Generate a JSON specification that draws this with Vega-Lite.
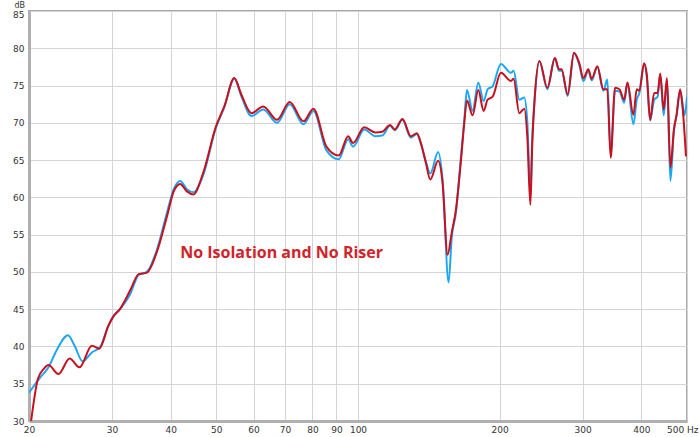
{
  "$schema": "https://vega.github.io/schema/vega-lite/v6.json",
  "width": 658,
  "height": 410,
  "autosize": {"type": "none"},
  "padding": {"left": 29, "top": 11, "right": 13, "bottom": 16},
  "background": "white",
  "config": {
    "view": {"stroke": "#a8a8a8", "strokeWidth": 2},
    "font": "DejaVu Sans",
    "axis": {"labelOverlap": false, "labelFlush": false, "labelBound": false}
  },
  "datasets": {
    "blue": [
      {"f": 20, "db": 33.8}, {"f": 21.1, "db": 35.8}, {"f": 22.0, "db": 37.2}, {"f": 22.9, "db": 39.5},
      {"f": 24.2, "db": 41.5}, {"f": 25.0, "db": 40.1}, {"f": 26.0, "db": 38.0}, {"f": 27.2, "db": 39.2},
      {"f": 28.3, "db": 39.9}, {"f": 29.5, "db": 42.8}, {"f": 30.2, "db": 44.0}, {"f": 31.2, "db": 45.0},
      {"f": 32.8, "db": 47.0}, {"f": 34.2, "db": 49.6}, {"f": 35.6, "db": 50.0}, {"f": 37.4, "db": 53.0},
      {"f": 39.3, "db": 58.0}, {"f": 40.6, "db": 61.1}, {"f": 41.9, "db": 62.2}, {"f": 43.3, "db": 61.1},
      {"f": 44.7, "db": 60.7}, {"f": 46.9, "db": 63.0}, {"f": 49.9, "db": 69.3}, {"f": 52.0, "db": 72.1},
      {"f": 54.6, "db": 75.9}, {"f": 56.5, "db": 73.6}, {"f": 59.4, "db": 70.9}, {"f": 62.9, "db": 71.8},
      {"f": 67.3, "db": 70.0}, {"f": 71.6, "db": 72.5}, {"f": 76.6, "db": 69.8}, {"f": 80.4, "db": 71.6},
      {"f": 85.7, "db": 66.3}, {"f": 91.0, "db": 65.1}, {"f": 95.3, "db": 67.8}, {"f": 97.6, "db": 66.8},
      {"f": 103.1, "db": 69.1}, {"f": 108.9, "db": 68.2}, {"f": 112.6, "db": 68.3}, {"f": 117.0, "db": 69.6},
      {"f": 119.7, "db": 69.0}, {"f": 124.3, "db": 70.4}, {"f": 129.5, "db": 68.0}, {"f": 133.4, "db": 68.5},
      {"f": 136.0, "db": 67.2}, {"f": 139.4, "db": 64.8}, {"f": 142.4, "db": 63.2}, {"f": 148.0, "db": 66.1},
      {"f": 151.2, "db": 62.5}, {"f": 155.8, "db": 48.6}, {"f": 158.1, "db": 54.5}, {"f": 161.5, "db": 58.0},
      {"f": 165.5, "db": 65.5}, {"f": 168.2, "db": 70.4}, {"f": 170.4, "db": 74.4}, {"f": 175.2, "db": 71.6},
      {"f": 180.1, "db": 75.4}, {"f": 184.9, "db": 72.9}, {"f": 188.5, "db": 74.5}, {"f": 193.2, "db": 74.9},
      {"f": 201.2, "db": 77.9}, {"f": 211.3, "db": 76.7}, {"f": 214.1, "db": 77.0}, {"f": 220.1, "db": 73.1},
      {"f": 225.6, "db": 73.4}, {"f": 229.0, "db": 70.0}, {"f": 232.4, "db": 60.5}, {"f": 234.5, "db": 68.0},
      {"f": 237.0, "db": 72.7}, {"f": 242.9, "db": 78.3}, {"f": 252.5, "db": 74.5}, {"f": 262.0, "db": 78.7},
      {"f": 267.2, "db": 77.0}, {"f": 270.7, "db": 77.0}, {"f": 278.9, "db": 73.6}, {"f": 287.6, "db": 79.3},
      {"f": 295.2, "db": 77.8}, {"f": 301.1, "db": 75.6}, {"f": 308.6, "db": 77.0}, {"f": 313.6, "db": 75.7},
      {"f": 322.5, "db": 77.5}, {"f": 332.1, "db": 74.3}, {"f": 338.6, "db": 75.8}, {"f": 344.2, "db": 65.8},
      {"f": 351.6, "db": 74.3}, {"f": 359.3, "db": 74.2}, {"f": 367.6, "db": 72.7}, {"f": 373.6, "db": 75.2},
      {"f": 384.7, "db": 69.8}, {"f": 391.0, "db": 73.1}, {"f": 396.1, "db": 74.0}, {"f": 405.3, "db": 77.9},
      {"f": 410.7, "db": 76.2}, {"f": 417.5, "db": 70.3}, {"f": 425.8, "db": 73.1}, {"f": 433.0, "db": 73.5},
      {"f": 438.6, "db": 76.4}, {"f": 446.1, "db": 71.0}, {"f": 453.4, "db": 75.6}, {"f": 461.0, "db": 62.2},
      {"f": 469.0, "db": 69.0}, {"f": 475.3, "db": 71.1}, {"f": 483.5, "db": 74.3}, {"f": 489.1, "db": 72.6},
      {"f": 494.0, "db": 71.0}, {"f": 500.0, "db": 73.5}
    ],
    "red": [
      {"f": 20.2, "db": 29.9}, {"f": 20.9, "db": 35.7}, {"f": 21.5, "db": 37.0}, {"f": 22.0, "db": 37.5},
      {"f": 23.1, "db": 36.3}, {"f": 24.4, "db": 38.4}, {"f": 25.6, "db": 37.2}, {"f": 27.2, "db": 40.1},
      {"f": 28.2, "db": 39.7}, {"f": 29.5, "db": 42.8}, {"f": 30.2, "db": 44.0}, {"f": 31.2, "db": 45.0},
      {"f": 32.8, "db": 47.5}, {"f": 34.2, "db": 49.7}, {"f": 35.6, "db": 49.9}, {"f": 37.4, "db": 52.7},
      {"f": 39.3, "db": 57.5}, {"f": 40.6, "db": 60.8}, {"f": 41.9, "db": 61.8}, {"f": 43.3, "db": 60.8},
      {"f": 44.7, "db": 60.4}, {"f": 46.9, "db": 63.3}, {"f": 49.9, "db": 69.5}, {"f": 52.0, "db": 72.2},
      {"f": 54.6, "db": 76.0}, {"f": 56.5, "db": 73.8}, {"f": 59.4, "db": 71.3}, {"f": 62.9, "db": 72.2},
      {"f": 67.3, "db": 70.4}, {"f": 71.6, "db": 72.8}, {"f": 76.6, "db": 70.2}, {"f": 80.4, "db": 71.9},
      {"f": 85.7, "db": 66.8}, {"f": 91.0, "db": 65.6}, {"f": 95.3, "db": 68.2}, {"f": 97.6, "db": 67.3},
      {"f": 103.1, "db": 69.4}, {"f": 108.9, "db": 68.7}, {"f": 112.6, "db": 68.8}, {"f": 117.0, "db": 69.7},
      {"f": 119.7, "db": 69.1}, {"f": 124.3, "db": 70.5}, {"f": 129.5, "db": 68.2}, {"f": 133.4, "db": 68.6},
      {"f": 136.0, "db": 67.3}, {"f": 139.4, "db": 64.6}, {"f": 142.4, "db": 62.4}, {"f": 148.0, "db": 64.9},
      {"f": 151.2, "db": 62.0}, {"f": 155.0, "db": 52.3}, {"f": 158.1, "db": 55.2}, {"f": 161.5, "db": 58.4},
      {"f": 165.5, "db": 65.0}, {"f": 168.2, "db": 70.0}, {"f": 170.4, "db": 73.0}, {"f": 175.2, "db": 71.0},
      {"f": 180.1, "db": 74.4}, {"f": 184.9, "db": 71.6}, {"f": 188.5, "db": 73.1}, {"f": 193.2, "db": 73.5},
      {"f": 201.2, "db": 76.7}, {"f": 211.3, "db": 75.6}, {"f": 214.1, "db": 75.9}, {"f": 220.1, "db": 71.3},
      {"f": 225.6, "db": 71.9}, {"f": 229.0, "db": 68.0}, {"f": 232.4, "db": 59.0}, {"f": 234.5, "db": 67.0},
      {"f": 237.0, "db": 72.7}, {"f": 242.9, "db": 78.3}, {"f": 252.5, "db": 74.7}, {"f": 262.0, "db": 78.7},
      {"f": 267.2, "db": 77.2}, {"f": 270.7, "db": 77.2}, {"f": 278.9, "db": 73.8}, {"f": 287.6, "db": 79.4},
      {"f": 295.2, "db": 78.0}, {"f": 301.1, "db": 76.0}, {"f": 308.6, "db": 77.2}, {"f": 313.6, "db": 75.9},
      {"f": 322.5, "db": 77.6}, {"f": 332.1, "db": 74.5}, {"f": 338.6, "db": 74.5}, {"f": 344.2, "db": 65.3},
      {"f": 351.6, "db": 74.7}, {"f": 359.3, "db": 74.5}, {"f": 367.6, "db": 73.1}, {"f": 373.6, "db": 75.4},
      {"f": 384.7, "db": 71.1}, {"f": 391.0, "db": 74.5}, {"f": 396.1, "db": 74.3}, {"f": 405.3, "db": 78.0},
      {"f": 410.7, "db": 76.5}, {"f": 417.5, "db": 70.4}, {"f": 425.8, "db": 74.0}, {"f": 433.0, "db": 74.0},
      {"f": 438.6, "db": 76.6}, {"f": 446.1, "db": 71.8}, {"f": 453.4, "db": 76.0}, {"f": 461.0, "db": 64.0},
      {"f": 469.0, "db": 69.1}, {"f": 475.3, "db": 71.1}, {"f": 483.5, "db": 74.5}, {"f": 489.1, "db": 72.2},
      {"f": 497.5, "db": 65.5}
    ]
  },
  "layer": [
    {
      "data": {"name": "blue"},
      "mark": {"type": "line", "interpolate": "monotone", "color": "#1fa6f2", "strokeWidth": 2, "clip": true},
      "encoding": {
        "x": {
          "field": "f",
          "type": "quantitative",
          "scale": {"type": "log", "domain": [20, 500], "nice": false},
          "axis": {
            "title": null,
            "values": [20, 30, 40, 50, 60, 70, 80, 90, 100, 200, 300, 400, 500],
            "labelExpr": "datum.value == 500 ? '500 Hz' : datum.label",
            "format": "d",
            "grid": true,
            "gridColor": "#d4d4d4",
            "gridWidth": 1,
            "ticks": false,
            "domainColor": "#b0b0b0",
            "domainWidth": 3,
            "labelFontSize": 9,
            "labelColor": "#333333",
            "labelPadding": 4,
            "labelAlign": {"condition": {"test": "datum.value == 500", "value": "right"}, "value": "center"},
            "labelOffset": {"condition": {"test": "datum.value == 500", "value": 11}, "value": 0}
          }
        },
        "y": {
          "field": "db",
          "type": "quantitative",
          "scale": {"domain": [30, 85], "nice": false, "zero": false},
          "axis": {
            "title": "dB",
            "titleAngle": 0,
            "titleX": -15,
            "titleY": -4,
            "titleAlign": "left",
            "titleBaseline": "alphabetic",
            "titleFontSize": 8,
            "titleFontWeight": "normal",
            "titleColor": "#333333",
            "values": [30, 35, 40, 45, 50, 55, 60, 65, 70, 75, 80, 85],
            "tickCount": 12,
            "grid": true,
            "gridColor": "#d4d4d4",
            "gridWidth": 1,
            "ticks": false,
            "domainColor": "#b0b0b0",
            "domainWidth": 3,
            "labelFontSize": 9,
            "labelColor": "#333333",
            "labelPadding": 5,
            "labelOffset": {"condition": {"test": "datum.value == 85", "value": 3}, "value": 0}
          }
        }
      }
    },
    {
      "data": {"name": "red"},
      "mark": {"type": "line", "interpolate": "monotone", "color": "#c8101e", "strokeWidth": 2, "clip": true},
      "encoding": {
        "x": {"field": "f", "type": "quantitative"},
        "y": {"field": "db", "type": "quantitative"}
      }
    },
    {
      "data": {"values": [{"label": "No Isolation and No Riser"}]},
      "mark": {"type": "text", "font": "Open Sans", "fontSize": 16, "fontWeight": "bold", "color": "#d0232a", "align": "left", "baseline": "middle"},
      "encoding": {
        "x": {"datum": 41.9, "type": "quantitative"},
        "y": {"datum": 52.5, "type": "quantitative"},
        "text": {"field": "label", "type": "nominal"}
      }
    }
  ]
}
